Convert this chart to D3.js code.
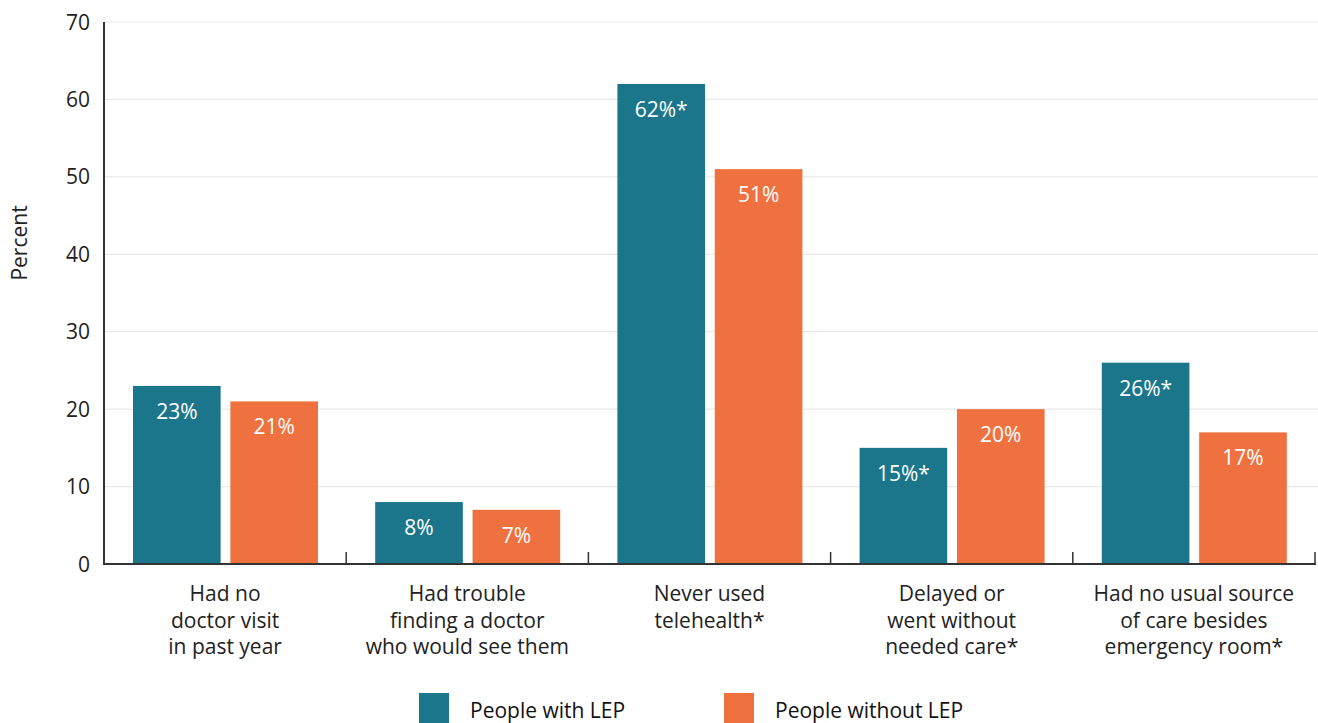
<!DOCTYPE html>
<html>
<head>
<meta charset="utf-8">
<script src="https://cdn.jsdelivr.net/npm/d3@7"></script>
<style>
  body { margin: 0; background: #fff; }
  text { font-family: "Open Sans", Lato, sans-serif; }
</style>
</head>
<body>
<script>
const categories = [
  ["Had no", "doctor visit", "in past year"],
  ["Had trouble", "finding a doctor", "who would see them"],
  ["Never used", "telehealth*"],
  ["Delayed or", "went without", "needed care*"],
  ["Had no usual source", "of care besides", "emergency room*"]
];
const seriesNames = ["People with LEP", "People without LEP"];
const withLEP = [23, 8, 62, 15, 26];
const withoutLEP = [21, 7, 51, 20, 17];
const withLabels = ["23%", "8%", "62%*", "15%*", "26%*"];
const withoutLabels = ["21%", "7%", "51%", "20%", "17%"];
const yTicks = [0, 10, 20, 30, 40, 50, 60, 70];
const colors = ["#1c768b", "#f07140"];

const width = 1318, height = 723;
const mLeft = 104, mRight = 1315, mTop = 22, mBottom = 564;
const fs = 21;

const svg = d3.select('body').append('svg')
    .attr('width', width)
    .attr('height', height);

const x0 = d3.scaleBand()
    .domain(d3.range(categories.length))
    .range([mLeft, mRight]);

const x1 = d3.scaleBand()
    .domain(seriesNames)
    .range([29, 214])
    .paddingInner(0.1);

const y = d3.scaleLinear()
    .domain([0, 70])
    .range([mBottom, mTop]);

// grid
svg.append('g')
    .selectAll('line')
    .data(yTicks.filter(d => d > 0))
    .enter().append('line')
    .attr('x1', mLeft).attr('x2', width)
    .attr('y1', d => y(d)).attr('y2', d => y(d))
    .attr('stroke', '#e9e9e9')
    .attr('stroke-width', 1.2);

// y tick labels
svg.append('g')
    .selectAll('text')
    .data(yTicks)
    .enter().append('text')
    .attr('x', 90)
    .attr('y', d => y(d))
    .attr('dy', '0.36em')
    .attr('text-anchor', 'end')
    .attr('font-size', fs)
    .attr('fill', '#222')
    .text(d => d);

svg.append('text')
    .attr('transform', `translate(27,243) rotate(-90)`)
    .attr('text-anchor', 'middle')
    .attr('font-size', fs)
    .attr('fill', '#222')
    .text('Percent');

const rows = categories.map((c, i) => ({
  i,
  vals: [
    { s: seriesNames[0], v: withLEP[i], label: withLabels[i], c: colors[0] },
    { s: seriesNames[1], v: withoutLEP[i], label: withoutLabels[i], c: colors[1] }
  ]
}));

const groups = svg.append('g')
    .selectAll('g')
    .data(rows)
    .enter().append('g')
    .attr('transform', d => `translate(${x0(d.i)},0)`);

groups.selectAll('rect')
    .data(d => d.vals)
    .enter().append('rect')
    .attr('x', d => x1(d.s))
    .attr('width', x1.bandwidth())
    .attr('y', d => y(d.v))
    .attr('height', d => y(0) - y(d.v))
    .attr('fill', d => d.c);

groups.selectAll('text.val')
    .data(d => d.vals)
    .enter().append('text')
    .attr('class', 'val')
    .attr('x', d => x1(d.s) + x1.bandwidth() / 2)
    .attr('y', d => y(d.v) + 33)
    .attr('text-anchor', 'middle')
    .attr('font-size', fs)
    .attr('fill', '#fff')
    .text(d => d.label);

// category labels
groups.each(function(d) {
  const t = d3.select(this).append('text')
      .attr('text-anchor', 'middle')
      .attr('font-size', fs)
      .attr('fill', '#222');
  categories[d.i].forEach((line, k) => {
    t.append('tspan')
      .attr('x', x0.bandwidth() / 2)
      .attr('y', 601 + k * 26.5)
      .text(line);
  });
});

// axes lines
svg.append('line')
    .attr('x1', mLeft).attr('x2', mLeft)
    .attr('y1', mTop).attr('y2', mBottom + 1)
    .attr('stroke', '#333').attr('stroke-width', 2);
svg.append('line')
    .attr('x1', mLeft).attr('x2', mRight + 1)
    .attr('y1', mBottom).attr('y2', mBottom)
    .attr('stroke', '#333').attr('stroke-width', 2);

// separator ticks
svg.append('g')
    .selectAll('line')
    .data(d3.range(1, categories.length + 1))
    .enter().append('line')
    .attr('x1', d => x0.step() * d + mLeft)
    .attr('x2', d => x0.step() * d + mLeft)
    .attr('y1', mBottom - 12).attr('y2', mBottom)
    .attr('stroke', '#333').attr('stroke-width', 1.5);

// legend
const legendX = [419, 724];
const legend = svg.append('g')
    .selectAll('g')
    .data(seriesNames)
    .enter().append('g')
    .attr('transform', (d, i) => `translate(${legendX[i]},693)`);
legend.append('rect')
    .attr('width', 30).attr('height', 30)
    .attr('fill', (d, i) => colors[i]);
legend.append('text')
    .attr('x', 51).attr('y', 25)
    .attr('font-size', fs)
    .attr('fill', '#111')
    .text(d => d);
</script>
</body>
</html>
